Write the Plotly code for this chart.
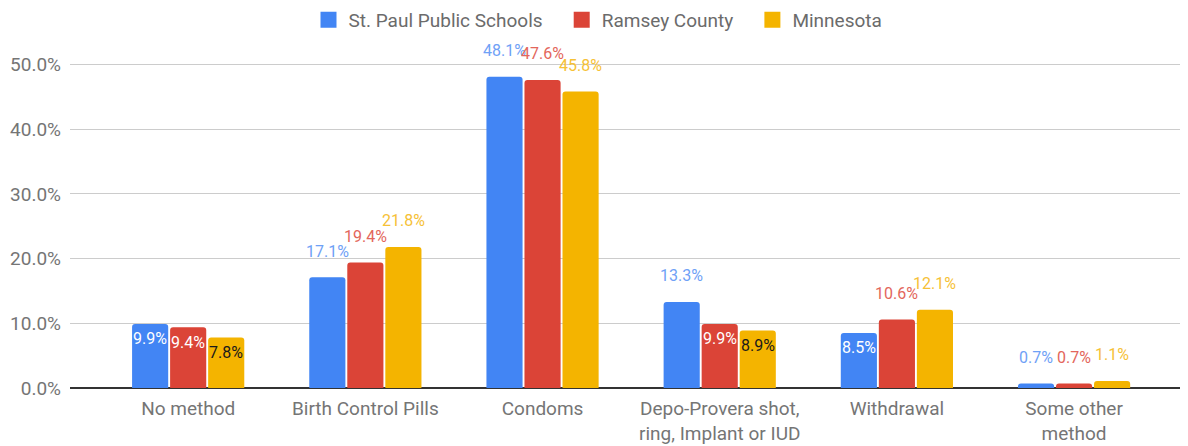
import plotly.graph_objects as go

categories = ["No method", "Birth Control Pills", "Condoms",
              "Depo-Provera shot,<br>ring, Implant or IUD", "Withdrawal", "Some other<br>method"]
series_names = ["St. Paul Public Schools", "Ramsey County", "Minnesota"]
spps = [0.099, 0.171, 0.481, 0.133, 0.085, 0.007]
ramsey = [0.094, 0.194, 0.476, 0.099, 0.106, 0.007]
minnesota = [0.078, 0.218, 0.458, 0.089, 0.121, 0.011]
y_ticks = [0, 0.1, 0.2, 0.3, 0.4, 0.5]

colors = ["#4285f4", "#db4437", "#f4b400"]
inside_text_colors = ["#ffffff", "#ffffff", "#1a1a1a"]
label_colors = ["#6fa1f6", "#e3665b", "#f6c136"]
offsets = [-38, 0, 38]
legend_pad = "\u00a0" * 3

fig = go.Figure()
all_vals = [spps, ramsey, minnesota]
for name, vals, col in zip(series_names, all_vals, colors):
    fig.add_trace(go.Bar(
        name=name, x=categories, y=vals, showlegend=False,
        marker=dict(color=col, line=dict(width=0), cornerradius=3),
        hoverinfo="skip",
    ))
# legend entries with larger square swatches
for i, (name, col) in enumerate(zip(series_names, colors)):
    fig.add_trace(go.Scatter(
        name=name + (legend_pad if i < len(series_names) - 1 else ""),
        x=[None], y=[None], mode="markers", showlegend=True,
        marker=dict(symbol="square", size=16, color=col, line=dict(width=0)),
        hoverinfo="skip",
    ))

for si, vals in enumerate(all_vals):
    for ci, v in enumerate(vals):
        inside = 0.02 < v < 0.10
        fig.add_annotation(
            x=categories[ci], y=v, xref="x", yref="y",
            text=f"{v*100:.1f}%", showarrow=False,
            xshift=offsets[si], yshift=(-15 if inside else 26),
            yanchor="middle", xanchor="center",
            font=dict(family="Roboto", size=16,
                      color=inside_text_colors[si] if inside else label_colors[si]),
        )

# page body has an 8px margin, so the figure is drawn 8px smaller and offset
fig.update_layout(
    width=1180, height=438,
    margin=dict(l=62, r=0, t=37, b=58, autoexpand=False),
    paper_bgcolor="white", plot_bgcolor="white",
    barmode="group", bargap=0.356, bargroupgap=0.05,
    font=dict(family="Roboto", size=19, color="#757575"),
    legend=dict(orientation="h", x=0.5, xanchor="center", xref="container",
                y=1.073, yanchor="middle", yref="paper", itemclick=False,
                font=dict(family="Roboto", size=19, color="#6b6b6b")),
    showlegend=True,
    xaxis=dict(type="category", range=[-0.667, 5.643], showgrid=False, automargin=False,
               tickfont=dict(family="Roboto", size=19, color="#757575"), ticks="",
               ticklabelstandoff=7),
    yaxis=dict(range=[0, 0.53], tickvals=y_ticks, tickformat=".1%", automargin=False,
               showgrid=True, gridcolor="#cccccc", gridwidth=1,
               zeroline=True, zerolinecolor="#333333", zerolinewidth=1.5,
               tickfont=dict(family="Roboto", size=19, color="#757575"),
               ticks="", ticklabelstandoff=8),
)
fig.write_html("out.html")
